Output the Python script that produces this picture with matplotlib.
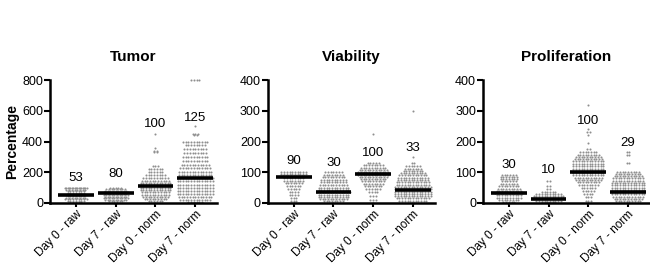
import numpy as np
import matplotlib
matplotlib.use("Agg")
import matplotlib.pyplot as plt

plt.rcParams['font.family'] = ['Liberation Sans', 'DejaVu Sans']

groups = ["Day 0 - raw", "Day 7 - raw", "Day 0 - norm", "Day 7 - norm"]
titles = ["Tumor", "Viability", "Proliferation"]
ylims = [800, 400, 400]

# each swarm row: value levels and how many dots sit on that level
tumor_levels = [
    [100, 95, 85, 75, 65, 55, 45, 35, 25, 15, 5, 0],
    [100, 90, 80, 70, 60, 50, 40, 30, 20, 10, 0],
    [450, 360, 340, 330, 240, 220, 200, 180, 160, 145, 130, 115, 100, 85, 70, 55, 40, 25, 10, 0],
    [800, 500, 450, 440, 400, 375, 350, 325, 300, 275, 250, 225, 200, 180, 160, 140, 120, 100, 80, 60, 40, 20, 5, 0],
]
tumor_counts = [
    [8, 9, 8, 7, 7, 8, 7, 8, 9, 7, 5, 1],
    [5, 8, 9, 10, 9, 10, 9, 10, 9, 6, 2],
    [1, 1, 2, 2, 3, 6, 6, 8, 10, 11, 12, 12, 12, 12, 11, 11, 10, 9, 6, 1],
    [4, 1, 3, 2, 10, 8, 9, 9, 10, 10, 11, 12, 13, 13, 14, 14, 14, 14, 14, 14, 13, 12, 6, 1],
]
viab_levels = [
    [100, 95, 88, 80, 72, 65, 55, 45, 35, 25, 15, 5, 0],
    [100, 92, 84, 75, 67, 58, 50, 42, 35, 27, 20, 12, 5, 0],
    [225, 130, 122, 115, 107, 100, 92, 85, 77, 70, 62, 55, 47, 35, 22, 10, 0],
    [300, 150, 130, 120, 112, 105, 97, 90, 82, 75, 67, 60, 52, 45, 37, 30, 22, 15, 7, 0],
]
viab_counts = [
    [10, 10, 9, 8, 8, 7, 6, 5, 4, 4, 3, 3, 1],
    [7, 8, 9, 10, 10, 11, 12, 12, 13, 12, 12, 11, 8, 1],
    [1, 5, 8, 10, 11, 12, 12, 11, 10, 9, 8, 7, 6, 4, 3, 3, 1],
    [1, 1, 2, 6, 7, 8, 10, 11, 12, 12, 13, 13, 14, 14, 14, 14, 14, 13, 11, 2],
]
prol_levels = [
    [92, 85, 78, 70, 62, 55, 47, 40, 32, 25, 17, 10, 3, 0],
    [70, 55, 45, 35, 28, 22, 15, 8, 2, 0],
    [320, 240, 230, 220, 195, 175, 165, 157, 150, 142, 135, 127, 120, 112, 105, 97, 90, 82, 75, 67, 60, 50, 40, 30, 20, 8, 0],
    [165, 155, 130, 102, 95, 88, 80, 72, 65, 57, 50, 42, 35, 28, 20, 12, 5, 0],
]
prol_counts = [
    [6, 7, 7, 6, 7, 8, 9, 10, 11, 10, 10, 8, 5, 1],
    [2, 2, 2, 6, 10, 12, 12, 10, 6, 1],
    [1, 1, 2, 1, 1, 2, 7, 9, 10, 11, 12, 12, 12, 12, 12, 12, 12, 11, 10, 9, 8, 6, 5, 4, 3, 3, 1],
    [2, 2, 2, 9, 10, 11, 12, 12, 13, 13, 13, 13, 13, 13, 12, 11, 10, 2],
]

medians = [[55, 65, 110, 160], [85, 37, 95, 42], [32, 12, 100, 35]]
labels = [["53", "80", "100", "125"], ["90", "30", "100", "33"], ["30", "10", "100", "29"]]
label_y = [[160, 190, 516, 555], [138, 129, 161, 180], [122, 106, 267, 196]]

levels = [tumor_levels, viab_levels, prol_levels]
counts = [tumor_counts, viab_counts, prol_counts]

fig = plt.figure(figsize=(6.5, 2.66), dpi=100)
lefts = [0.077, 0.412, 0.743]
width = 0.257
dx = 0.068

for p in range(3):
    ax = fig.add_axes([lefts[p], 0.237, width, 0.462])
    for g in range(4):
        for lv, n in zip(levels[p][g], counts[p][g]):
            xs = g + (np.arange(n) - (n - 1) / 2) * dx
            ax.scatter(xs, np.full(n, lv), s=2.2, color="#8f8f8f", linewidths=0, zorder=2, clip_on=False)
        ax.plot([g - 0.45, g + 0.45], [medians[p][g]] * 2, color="black", lw=2.6, zorder=3, solid_capstyle="butt")
        ax.text(g, label_y[p][g], labels[p][g], ha="center", va="center", fontsize=9.5)
    ax.set_xlim(-0.65, 3.55)
    ax.set_ylim(0, ylims[p])
    ax.set_yticks(np.linspace(0, ylims[p], 5))
    ax.set_xticks(range(4))
    ax.set_xticklabels(groups, rotation=45, ha="right", rotation_mode="anchor", fontsize=8.5)
    ax.tick_params(axis="y", labelsize=9, width=1.5, length=4, pad=1)
    ax.tick_params(axis="x", width=1.5, length=3, pad=1)
    for s in ["top", "right"]:
        ax.spines[s].set_visible(False)
    for s in ["left", "bottom"]:
        ax.spines[s].set_linewidth(1.8)
    ax.set_title(titles[p], fontsize=11, fontweight="bold", pad=14)
    if p == 0:
        ax.set_ylabel("Percentage", fontsize=10, fontweight="bold", labelpad=2)

fig.savefig("out.png", dpi=100)
